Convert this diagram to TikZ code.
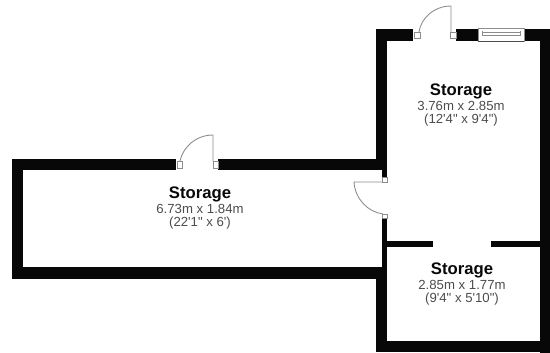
\documentclass[tikz,border=0pt]{standalone}
\usepackage{fontspec}
\setmainfont[Ligatures=TeXOff]{Liberation Sans}
\definecolor{wallcol}{gray}{.03}
\definecolor{doorcol}{gray}{.55}
\definecolor{dimcol}{gray}{.3}
\tikzset{
    wall/.style={fill=wallcol,draw=none},
    doorline/.style={draw=doorcol,line width=.5pt},
    jamb/.style={draw=doorcol,fill=white,line width=.35pt},
    roomname/.style={font=\bfseries\fontsize{9.5}{11}\selectfont,text=wallcol,inner sep=0pt},
    roomsize/.style={font=\fontsize{7.5}{9}\selectfont,text=dimcol,inner sep=0pt,align=center}
}
\begin{document}
\begin{tikzpicture}[xscale=.02, yscale=-.02]
\useasboundingbox (0,0) rectangle (550,353);
\foreach \xa/\ya/\xb/\yb in {376/29/413/41,456/29/478/41,523/29/550/41,
    376/29/387/160,540/29/550/353,382/160/387/177,
    12/159/176/170,218/159/387/170,12/159/23/279,12/267/387/279,
    382/218/387/352,376/267/387/352,376/341/550/352,
    387/241/433/247,491/241/540/247}
{
    \fill[wall] (\xa,\ya) rectangle (\xb,\yb);
}

% window
\draw[draw=doorcol,fill=white,line width=.4pt] (478,28) rectangle (524,41);
\draw[draw=dimcol,line width=.5pt] (478,41)--(524,41);
\draw[doorline] (482,32)--(520,32) (482,35)--(520,35) (482,31)--(482,36) (520,31)--(520,36);

% doors
\foreach \xa/\ya/\xb/\yb in {414/32/420/38,450/32/456/38,177/161/182/168,213/161/218/168,382/177/387/182,382/214/387/218}
{
    \draw[jamb] (\xa,\ya) rectangle (\xb,\yb);
}
\draw[doorline] (451,32)--(451,6) .. controls (434,6) and (421,18) .. (419,32);
\draw[doorline] (213,161)--(213,135) .. controls (196,135) and (183,147) .. (180,161);
\draw[doorline] (383,182)--(354,182) .. controls (355,199) and (368,212) .. (383,214);

% labels
\foreach \nm/\x/\y/\sizea/\sizeb in {long/200/194/{6.73m x 1.84m}/{(22'1" x 6')},
    top/461/91/{3.76m x 2.85m}/{(12'4" x 9'4")},
    low/462/270/{2.85m x 1.77m}/{(9'4" x 5'10")}}
{
    \node[roomname] (\nm) at (\x,\y) {Storage};
    \node[roomsize] (\nm size) at (\x,\y+15) {\sizea};
    \node[roomsize] (\nm feet) at (\x,\y+29.5) {\sizeb};
}
\end{tikzpicture}
\end{document}
